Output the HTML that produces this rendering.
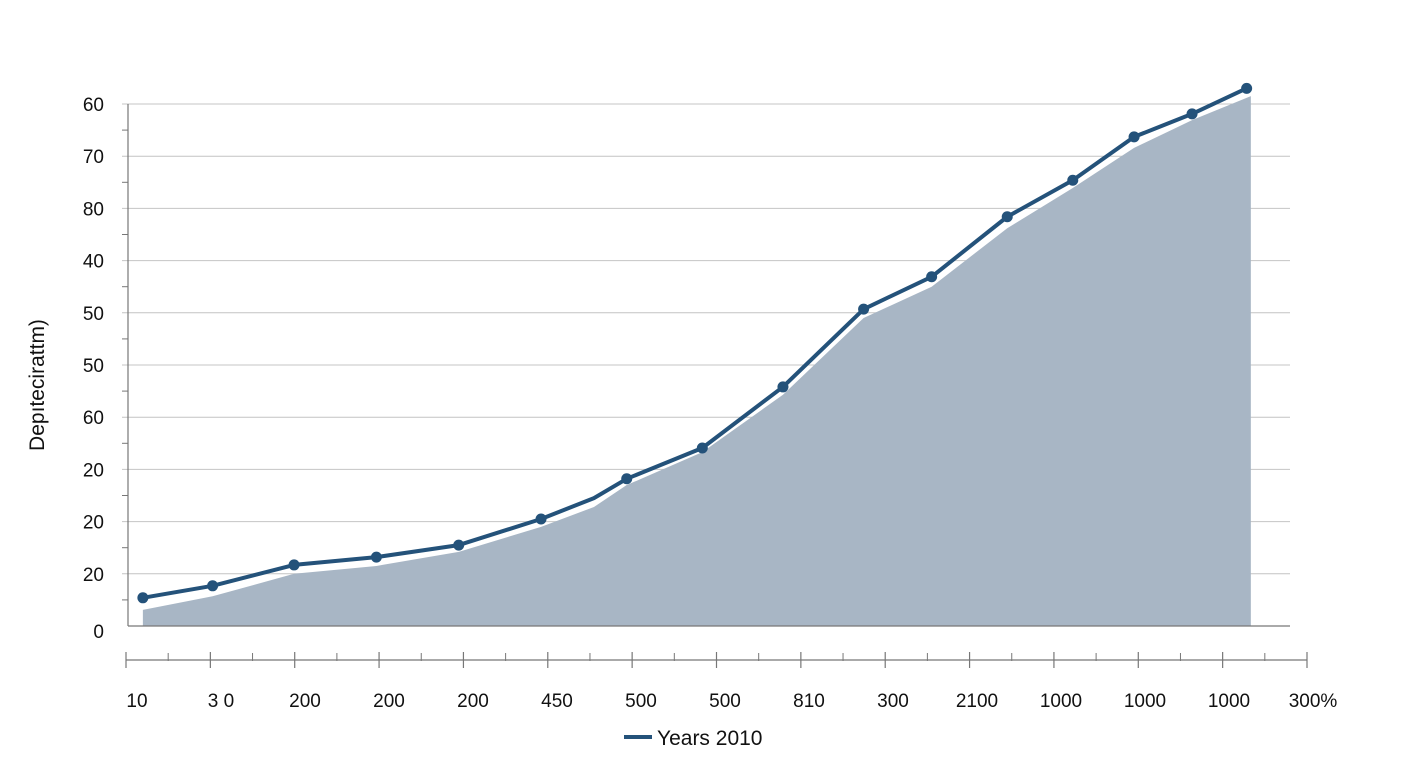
<!DOCTYPE html>
<html><head><meta charset="utf-8"><style>
html,body{margin:0;padding:0;background:#fff;}
svg{display:block;font-family:"Liberation Sans","DejaVu Sans",sans-serif;}
</style></head><body>
<svg id="chart" width="1408" height="768" viewBox="0 0 1408 768">
<g id="grid"></g>
<g id="area"></g>
<g id="line"></g>
<g id="yaxis"></g>
<g id="xaxis"></g>
<text x="44" y="385" transform="rotate(-90 44 385)" text-anchor="middle" font-size="21" fill="#111">Depıtecirattm)</text>
<g>
<line x1="624" y1="737" x2="652" y2="737" stroke="#24527a" stroke-width="4"/>
<text x="657" y="745" font-size="21" fill="#111">Years 2010</text>
</g>
</svg>
<script>
const yTickLabels=["60","70","80","40","50","50","60","20","20","20"];
const xTickLabels=["10","3 0","200","200","200","450","500","500","810","300","2100","1000","1000","1000","300%"];
const lineX=[0.07,0.9,1.87,2.85,3.83,4.81,5.44,5.83,6.73,7.69,8.65,9.46,10.36,11.14,11.87,12.56,13.21];
const lineY=[5.4,7.7,11.7,13.2,15.5,20.5,24.5,28.2,34.1,45.8,60.7,66.9,78.4,85.4,93.7,98.1,103];
const markerIdx=[0,1,2,3,4,5,7,8,9,10,11,12,13,14,15,16];
const areaX=[0.07,0.9,1.87,2.85,3.83,4.81,5.44,5.83,6.73,7.69,8.65,9.46,10.36,11.14,11.87,12.56,13.26];
const areaY=[3.1,5.7,10,11.5,14.2,19,22.8,27,33.3,44.3,59,65,76.2,83.9,91.6,96.9,101.5];
const NS="http://www.w3.org/2000/svg";
const xs=u=>137+84*u;
const ys=v=>626-v*5.22;
function mk(tag,attrs,parent){const e=document.createElementNS(NS,tag);for(const k in attrs)e.setAttribute(k,attrs[k]);parent.appendChild(e);return e;}
const grid=document.getElementById('grid'),yax=document.getElementById('yaxis'),xax=document.getElementById('xaxis');
yTickLabels.forEach((t,i)=>{const v=100-i*10;const y=ys(v);
const g=mk('line',{x1:122,x2:1290,y1:y,y2:y,stroke:'#c4c4c4','stroke-width':1},grid);


const m=mk('line',{x1:122,x2:128,y1:ys(v-5),y2:ys(v-5),stroke:'#777','stroke-width':1},yax);


const tx=mk('text',{x:104,y:y+7,'text-anchor':'end','font-size':19,fill:'#111'},yax);tx.textContent=t;

});
const z=mk('text',{x:104,y:638,'text-anchor':'end','font-size':19,fill:'#111'},yax);z.textContent="0";


mk('line',{x1:128,x2:128,y1:104,y2:626,stroke:'#777','stroke-width':1.2},yax);
mk('line',{x1:128,x2:1290,y1:626,y2:626,stroke:'#777','stroke-width':1.2},yax);
// area
let d='M'+xs(areaX[0])+','+ys(0);
areaX.forEach((u,i)=>{d+=' L'+xs(u)+','+ys(areaY[i]);});
d+=' L'+xs(areaX[areaX.length-1])+','+ys(0)+' Z';
const ar=mk('path',{d:d,fill:'#a8b6c5'},document.getElementById('area'));


// line
const lg=document.getElementById('line');
const pl=mk('polyline',{points:lineX.map((u,i)=>xs(u)+','+ys(lineY[i])).join(' '),fill:'none',stroke:'#24527a','stroke-width':4,'stroke-linejoin':'round'},lg);


markerIdx.forEach(i=>{const c=mk('circle',{cx:xs(lineX[i]),cy:ys(lineY[i]),r:5.5,fill:'#24527a'},lg);

});
// lower x axis
mk('line',{x1:126,x2:1307,y1:660,y2:660,stroke:'#777','stroke-width':1.2},xax);
const step=(1307-126)/14;
for(let i=0;i<=14;i++){const x=126+i*step;
const t=mk('line',{x1:x,x2:x,y1:652,y2:668,stroke:'#777','stroke-width':1.2},xax);


if(i<14){const m=mk('line',{x1:x+step/2,x2:x+step/2,y1:653,y2:661,stroke:'#777','stroke-width':1},xax);

}}
xTickLabels.forEach((t,i)=>{const tx=mk('text',{x:xs(i),y:707,'text-anchor':'middle','font-size':19,fill:'#111'},xax);tx.textContent=t;

});
</script>
</body></html>
